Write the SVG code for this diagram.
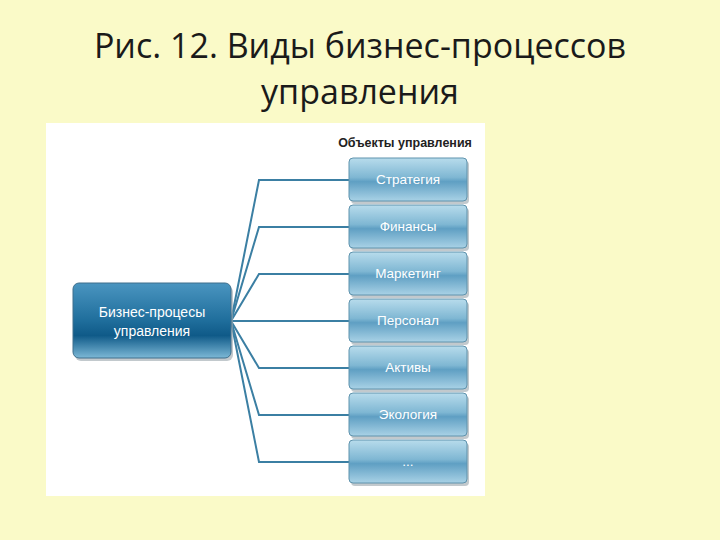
<svg xmlns="http://www.w3.org/2000/svg" width="720" height="540" viewBox="0 0 720 540">
<style>
.title{font-family:"Open Sans","Liberation Sans",sans-serif;font-size:34px;fill:#1a1a1a;text-anchor:middle}
.lbl{font-family:"Liberation Sans",Arial,sans-serif;font-size:13.5px;fill:#ffffff;text-anchor:middle}
.main{font-family:"Liberation Sans",Arial,sans-serif;font-size:14px;fill:#ffffff;text-anchor:middle}
.hdr{font-family:"Liberation Sans",Arial,sans-serif;font-size:12.5px;fill:#222;text-anchor:middle}
.obj{fill:url(#gObj);stroke:#5f93ad;stroke-width:1}
.shadow{fill:#9aa5ab;opacity:0.6}
.conn{fill:none;stroke:#3b7fa3;stroke-width:2}
</style>
<defs>
<linearGradient id="gObj" x1="0" y1="0" x2="0" y2="1">
<stop offset="0" stop-color="#b8dcec"/>
<stop offset="0.45" stop-color="#7fb7d3"/>
<stop offset="0.55" stop-color="#5f9fc3"/>
<stop offset="1" stop-color="#a9d2e6"/>
</linearGradient>
<linearGradient id="gMain" x1="0" y1="0" x2="0" y2="1">
<stop offset="0" stop-color="#4a95c0"/>
<stop offset="0.5" stop-color="#1f6e9c"/>
<stop offset="0.7" stop-color="#0f5a88"/>
<stop offset="1" stop-color="#7cb8d6"/>
</linearGradient>
</defs>
<rect x="0" y="0" width="720" height="540" fill="#fafac8"/>
<text class="title" x="360" y="58">Рис. 12. Виды бизнес-процессов</text>
<text class="title" x="360" y="104">управления</text>
<rect x="46" y="123" width="439" height="373" fill="#ffffff"/>
<text class="hdr" x="405" y="147" font-weight="bold">Объекты управления</text>
<g id="connectors">
<path class="conn" d="M231 321 L259 180 L350 180"/>
<path class="conn" d="M231 321 L259 227 L350 227"/>
<path class="conn" d="M231 321 L259 274 L350 274"/>
<path class="conn" d="M231 321 L350 321"/>
<path class="conn" d="M231 321 L259 368 L350 368"/>
<path class="conn" d="M231 321 L259 415 L350 415"/>
<path class="conn" d="M231 321 L259 462 L350 462"/>
</g>
<g id="main">
<rect class="shadow" x="75" y="286" width="158" height="75" rx="6"/>
<rect x="73" y="283" width="158" height="75" rx="6" fill="url(#gMain)" stroke="#3f6f8c" stroke-width="1"/>
<text class="main" x="152" y="317">Бизнес-процесы</text>
<text class="main" x="152" y="336">управления</text>
</g>
<g id="n1">
<rect class="shadow" x="351" y="161" width="118" height="43" rx="4"/>
<rect class="obj" x="349" y="158" width="118" height="43" rx="4"/>
<text class="lbl" x="408" y="184">Стратегия</text>
</g>
<g id="n2">
<rect class="shadow" x="351" y="208" width="118" height="43" rx="4"/>
<rect class="obj" x="349" y="205" width="118" height="43" rx="4"/>
<text class="lbl" x="408" y="231">Финансы</text>
</g>
<g id="n3">
<rect class="shadow" x="351" y="255" width="118" height="43" rx="4"/>
<rect class="obj" x="349" y="252" width="118" height="43" rx="4"/>
<text class="lbl" x="408" y="278">Маркетинг</text>
</g>
<g id="n4">
<rect class="shadow" x="351" y="302" width="118" height="43" rx="4"/>
<rect class="obj" x="349" y="299" width="118" height="43" rx="4"/>
<text class="lbl" x="408" y="325">Персонал</text>
</g>
<g id="n5">
<rect class="shadow" x="351" y="349" width="118" height="43" rx="4"/>
<rect class="obj" x="349" y="346" width="118" height="43" rx="4"/>
<text class="lbl" x="408" y="372">Активы</text>
</g>
<g id="n6">
<rect class="shadow" x="351" y="396" width="118" height="43" rx="4"/>
<rect class="obj" x="349" y="393" width="118" height="43" rx="4"/>
<text class="lbl" x="408" y="419">Экология</text>
</g>
<g id="n7">
<rect class="shadow" x="351" y="443" width="118" height="43" rx="4"/>
<rect class="obj" x="349" y="440" width="118" height="43" rx="4"/>
<text class="lbl" x="408" y="466">...</text>
</g>
</svg>
